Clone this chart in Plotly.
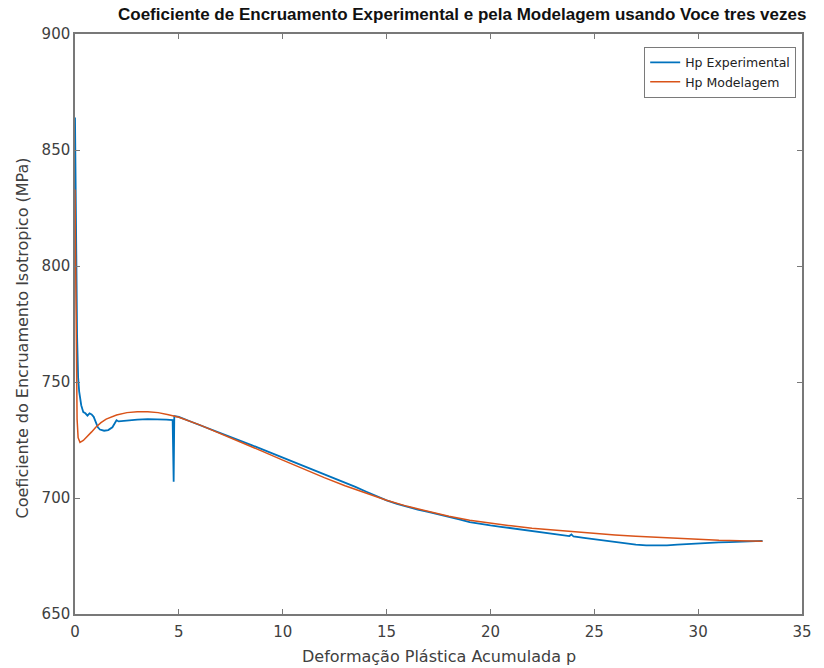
import plotly.graph_objects as go

# Experimental hardening coefficient (blue)
exp_x = [0, 0.02, 0.05, 0.1, 0.15, 0.2, 0.3, 0.4, 0.5, 0.6, 0.7, 0.8, 0.9, 1.0, 1.1, 1.2,
         1.4, 1.6, 1.8, 1.9, 2.0, 2.1, 2.3, 2.6, 3.0, 3.5, 4.0, 4.4, 4.7, 4.75, 4.78,
         5.0, 5.5, 6.0, 6.5, 7.0, 7.5, 8.0, 8.5, 9.0, 9.5, 10, 10.5, 11, 11.5, 12, 12.5,
         13, 13.5, 14, 14.5, 15, 15.5, 16, 16.5, 17, 17.5, 18, 18.5, 19, 19.5, 20,
         20.5, 21, 21.5, 22, 22.5, 23, 23.5, 23.8, 23.9, 24, 24.5, 25, 25.5, 26, 26.5,
         27, 27.5, 28, 28.5, 29, 29.5, 30, 30.5, 31, 31.5, 32, 32.5, 33.1]
exp_y = [864, 840, 800, 770, 752, 746, 740, 737, 736.5, 735.5, 736.5, 736, 735, 733, 730.5, 729.5,
         729, 729.3, 730.5, 732, 733.5, 733, 733.2, 733.5, 733.8, 734, 734, 733.8, 733.6, 707, 735.3,
         735, 733.2, 731.4, 729.6, 727.8, 726.2, 724.5, 722.8, 721, 719.3, 717.5, 715.8, 714, 712.3, 710.5, 708.7,
         706.8, 704.8, 702.8, 700.8, 699, 697.5, 696.2, 695, 694, 693, 692, 690.8, 689.6, 688.8, 688.2,
         687.6, 687, 686.4, 685.8, 685.2, 684.5, 684, 683.6, 684.3, 683.4, 682.8, 682.2, 681.5, 680.9, 680.3,
         679.9, 679.6, 679.5, 679.6, 679.9, 680.2, 680.5, 680.7, 680.9, 681, 681.2, 681.3, 681.5]

# Model (Voce x3) hardening coefficient (orange)
mod_x = [0, 0.03, 0.06, 0.1, 0.15, 0.24, 0.4, 0.6, 0.8, 1.0, 1.25, 1.5, 2.0, 2.5, 3.0, 3.5,
         4.0, 4.5, 5.0, 6.0, 7.0, 8.0, 9.0, 10, 11, 12, 13, 14, 15, 16, 17, 18, 19, 20,
         21, 22, 23, 24, 25, 26, 27, 28, 29, 30, 31, 32, 33.1]
mod_y = [833, 790, 755, 734, 726, 724, 724.8, 726.5, 728.5, 730.5, 732.5, 734, 735.8, 736.8, 737.2, 737.2,
         736.8, 735.9, 734.8, 731.5, 727.8, 724, 720.2, 716.3, 712.5, 708.8, 705.3, 702, 699, 696.4, 694.1, 692.1, 690.4, 689.1,
         688, 687, 686.2, 685.5, 684.8, 684.1, 683.5, 683, 682.5, 682.1, 681.8, 681.6, 681.4]

x_ticks = [0, 5, 10, 15, 20, 25, 30, 35]
y_ticks = [650, 700, 750, 800, 850, 900]

title_text = "Coeficiente de Encruamento Experimental e pela Modelagem usando Voce tres vezes"
x_label = "Deformação Plástica Acumulada p"
y_label = "Coeficiente do Encruamento Isotropico (MPa)"

FONT = "DejaVu Sans"
TFONT = "Liberation Sans"
AX = "#787878"

fig = go.Figure()
fig.add_trace(go.Scatter(x=exp_x, y=exp_y, mode="lines", name="Hp Experimental",
                         line=dict(color="#0072BD", width=1.8)))
fig.add_trace(go.Scatter(x=mod_x, y=mod_y, mode="lines", name="Hp Modelagem",
                         line=dict(color="#D95319", width=1.5)))

axis_common = dict(showline=True, linecolor=AX, linewidth=1.5, mirror="ticks",
                   ticks="inside", ticklen=5, tickcolor=AX, tickwidth=1,
                   showgrid=False, zeroline=False,
                   tickfont=dict(family=FONT, size=15, color="#404040"))

fig.update_layout(
    width=824, height=668,
    margin=dict(l=75, r=13, t=34, b=54),
    paper_bgcolor="white", plot_bgcolor="white",
    showlegend=True,
    legend=dict(x=0.992, y=0.978, xanchor="right", yanchor="top",
                bgcolor="white", bordercolor="#7a7a7a", borderwidth=1,
                font=dict(family=FONT, size=12.5, color="#222222"),
                tracegroupgap=0, itemwidth=30),
    xaxis=dict(range=[0, 35], tickvals=x_ticks, ticklabelstandoff=3, **axis_common),
    yaxis=dict(range=[650, 900], tickvals=y_ticks, **axis_common),
    annotations=[
        dict(text="<b>" + title_text + "</b>", xref="paper", yref="paper",
             x=(467 - 75) / 736, y=1, yshift=20, xanchor="center", yanchor="middle", showarrow=False,
             font=dict(family=TFONT, size=17, color="#111111")),
        dict(text=x_label, xref="paper", yref="paper", x=0.5, y=0, yshift=-42,
             xanchor="center", yanchor="middle", showarrow=False,
             font=dict(family=FONT, size=16, color="#404040")),
        dict(text=y_label, xref="paper", yref="paper", x=0, y=0.475, xshift=-53,
             xanchor="center", yanchor="middle", showarrow=False, textangle=-90,
             font=dict(family=FONT, size=16, color="#404040")),
    ],
)

fig.write_html("out.html")
